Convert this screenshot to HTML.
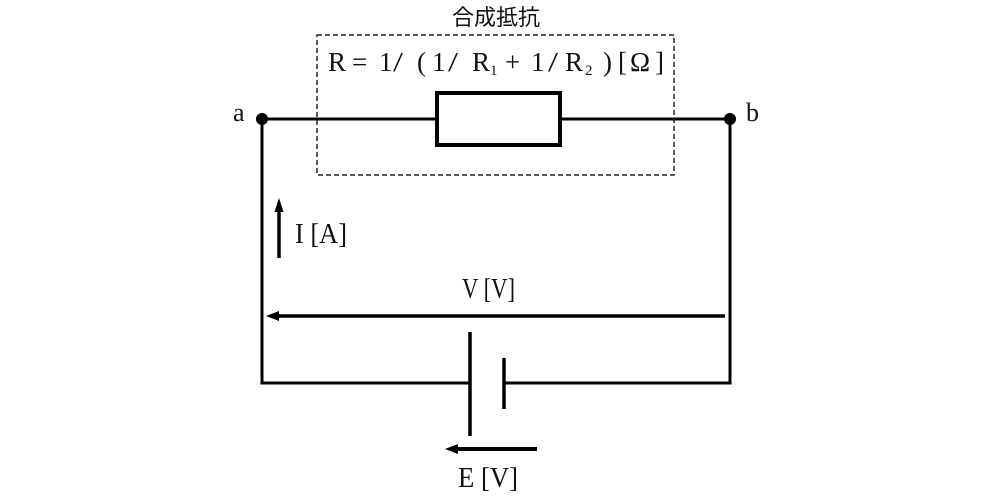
<!DOCTYPE html>
<html><head><meta charset="utf-8"><style>
html,body{margin:0;padding:0;background:#fff;}
svg{display:block;}
text{font-family:"Liberation Serif","Noto Serif CJK SC",serif;fill:#111;}
</style></head><body>
<svg width="1000" height="500" viewBox="0 0 1000 500" xmlns="http://www.w3.org/2000/svg">
<rect width="1000" height="500" fill="#fff"/>
<!-- title -->
<text x="452" y="25" font-size="22" textLength="88" lengthAdjust="spacingAndGlyphs" style="font-family:'Liberation Sans','Noto Sans CJK JP',sans-serif">合成抵抗</text>
<!-- wires -->
<g stroke="#000" stroke-width="3" fill="none">
<polyline points="262,119 437,119"/>
<polyline points="560,119 730,119"/>
<polyline points="262,119 262,383 470,383"/>
<polyline points="730,119 730,383 504,383"/>
</g>
<!-- dashed box -->
<rect x="317" y="35" width="357" height="140" fill="none" stroke="#222" stroke-width="1.5" stroke-dasharray="5 3"/>
<!-- resistor -->
<rect x="437" y="93" width="123" height="52" fill="#fff" stroke="#000" stroke-width="4"/>
<!-- dots -->
<circle cx="262" cy="119" r="6" fill="#000"/>
<circle cx="730" cy="119" r="6" fill="#000"/>
<!-- battery -->
<line x1="470" y1="332" x2="470" y2="436" stroke="#000" stroke-width="3.5"/>
<line x1="504" y1="358" x2="504" y2="409" stroke="#000" stroke-width="3.5"/>
<!-- I arrow -->
<line x1="279" y1="258" x2="279" y2="208" stroke="#000" stroke-width="3.5"/>
<polygon points="279,198 274.5,212 283.5,212" fill="#000"/>
<!-- V arrow -->
<line x1="725" y1="316" x2="276" y2="316" stroke="#000" stroke-width="3.5"/>
<polygon points="266,316 279,311 279,321" fill="#000"/>
<!-- E arrow -->
<line x1="537" y1="449" x2="455" y2="449" stroke="#000" stroke-width="4"/>
<polygon points="445,449 458,444 458,454" fill="#000"/>
<!-- labels -->
<text x="233" y="121" font-size="26">a</text>
<text x="746" y="121" font-size="26">b</text>
<text x="295" y="243" font-size="28" textLength="52" lengthAdjust="spacingAndGlyphs">I [A]</text>
<text x="462" y="298" font-size="28" textLength="53" lengthAdjust="spacingAndGlyphs">V [V]</text>
<text x="458" y="487" font-size="28" textLength="60" lengthAdjust="spacingAndGlyphs">E [V]</text>
<!-- formula -->
<g font-size="27">
<text x="328" y="71">R</text>
<text x="352" y="71">=</text>
<text x="379" y="71">1</text>
<text x="393" y="71" textLength="10" lengthAdjust="spacingAndGlyphs">/</text>
<text x="417" y="71">(</text>
<text x="432" y="71">1</text>
<text x="448" y="71" textLength="10" lengthAdjust="spacingAndGlyphs">/</text>
<text x="472" y="71">R</text>
<text x="490" y="75" font-size="15">1</text>
<text x="505" y="71">+</text>
<text x="531" y="71">1</text>
<text x="548" y="71" textLength="10" lengthAdjust="spacingAndGlyphs">/</text>
<text x="565" y="71">R</text>
<text x="585" y="75" font-size="15">2</text>
<text x="603" y="71">)</text>
<text x="618" y="71">[</text>
<text x="630" y="71">Ω</text>
<text x="655" y="71">]</text>
</g>
</svg>
</body></html>
